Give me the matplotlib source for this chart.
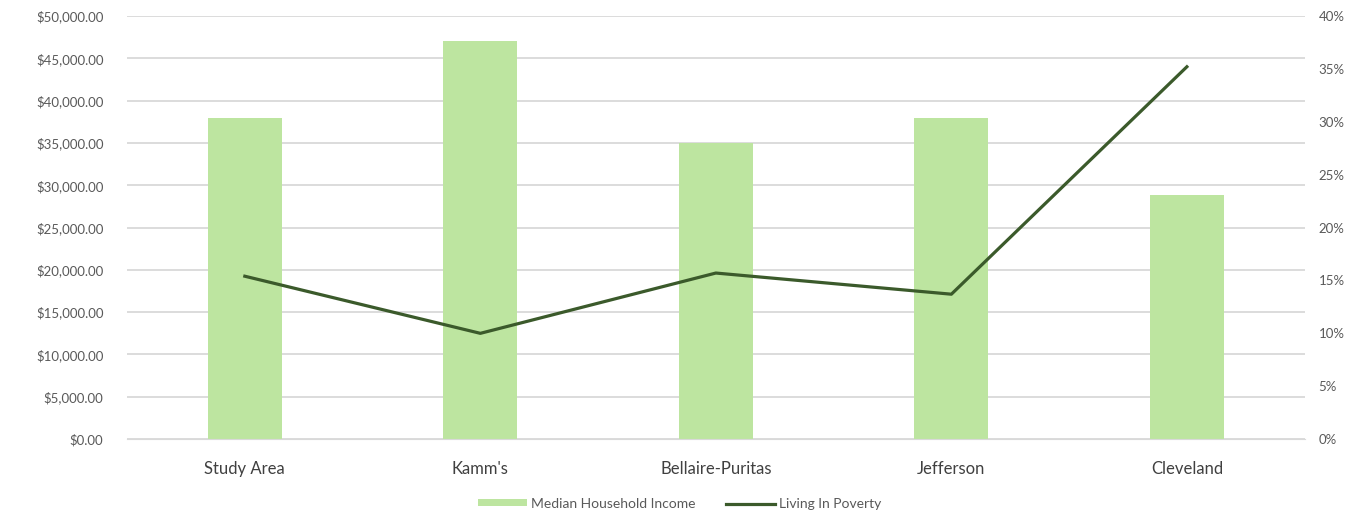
import matplotlib.pyplot as plt
from matplotlib.ticker import FuncFormatter, MultipleLocator

plt.rcParams['font.family'] = ['Lato', 'DejaVu Sans']

areas = ["Study Area", "Kamm's", "Bellaire-Puritas", "Jefferson", "Cleveland"]
median_income = [38000, 47100, 35000, 38000, 28900]
poverty_pct = [15.4, 10.0, 15.7, 13.7, 35.2]

bar_color = "#bde5a0"
line_color = "#3b5a2b"
text_color = "#595959"

fig = plt.figure(figsize=(13.59, 5.16), dpi=100)
ax = fig.add_axes([0.0935, 0.149, 0.8665, 0.82])
ax2 = ax.twinx()

x = range(len(areas))
bars = ax.bar(x, median_income, width=0.315, color=bar_color, zorder=2,
              label="Median Household Income")
line, = ax2.plot(x, poverty_pct, color=line_color, lw=2.3, zorder=3,
                 label="Living In Poverty")

ax.set_xlim(-0.5, len(areas) - 0.5)
ax.set_ylim(0, 50000)
ax2.set_ylim(0, 40)
ax.yaxis.set_major_locator(MultipleLocator(5000))
ax2.yaxis.set_major_locator(MultipleLocator(5))
ax.yaxis.set_major_formatter(FuncFormatter(lambda v, p: f"${v:,.2f}"))
ax2.yaxis.set_major_formatter(FuncFormatter(lambda v, p: f"{v:.0f}%"))

ax.grid(axis="y", color="#d9d9d9", lw=1.3, zorder=0)
ax.set_axisbelow(True)
ax2.set_zorder(ax.get_zorder() + 1)
ax2.patch.set_visible(False)

for a in (ax, ax2):
    for s in a.spines.values():
        s.set_visible(False)
    a.tick_params(length=0, colors=text_color, labelsize=9.5)
ax.spines["bottom"].set_visible(True)
ax.spines["bottom"].set_color("#d9d9d9")
ax.tick_params(axis="y", pad=17)
ax2.tick_params(axis="y", pad=10)

ax.set_xticks(list(x))
ax.set_xticklabels(areas, fontsize=12, color="#404040")
ax.tick_params(axis="x", pad=16)

fig.legend(handles=[bars, line], loc="lower center", bbox_to_anchor=(0.5, -0.012),
           ncol=2, frameon=False, fontsize=10, labelcolor=text_color,
           handlelength=3.5, handleheight=0.35, handletextpad=0.3,
           columnspacing=2.2)

fig.savefig("out.png", dpi=100, facecolor="white")
